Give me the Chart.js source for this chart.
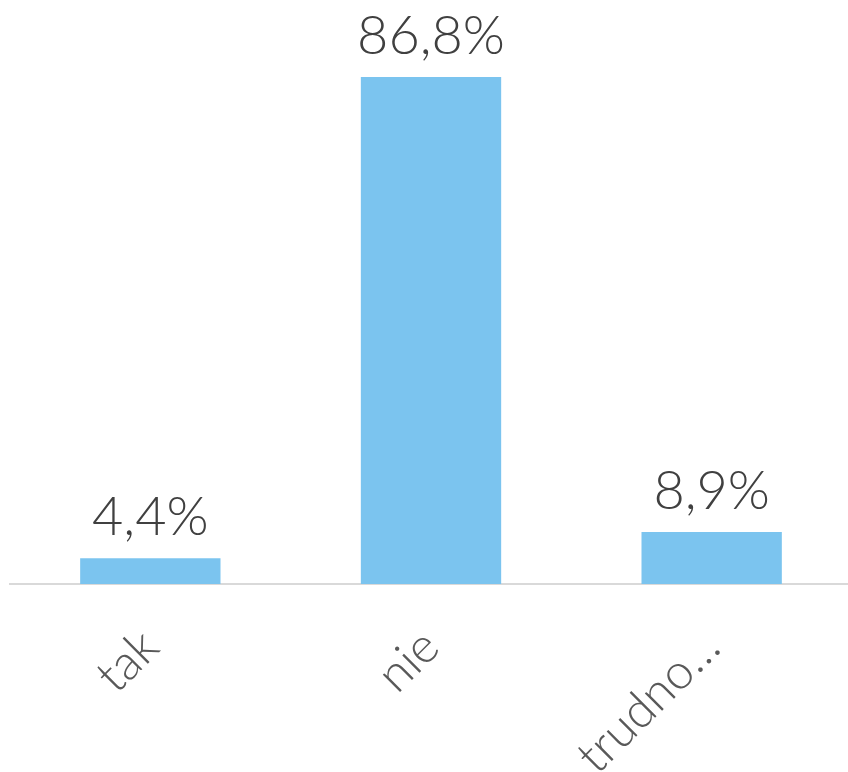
<!DOCTYPE html>
<html>
<head>
<meta charset="utf-8">
<script src="https://cdn.jsdelivr.net/npm/chart.js@4/dist/chart.umd.min.js"></script>
<style>
  html, body { margin: 0; padding: 0; background: #ffffff; overflow: hidden; }
  #wrap { width: 852px; height: 772px; }
</style>
</head>
<body>
<div id="wrap"><canvas id="c" width="852" height="772"></canvas></div>
<script>
const categories = ["tak", "nie", "trudno…"];
const values = [4.4, 86.8, 8.9];
const valueLabels = ["4,4%", "86,8%", "8,9%"];

const FONT = "Lato, 'Open Sans', sans-serif";

const valueLabelPlugin = {
  id: "valueLabels",
  afterDatasetsDraw(chart) {
    const ctx = chart.ctx;
    const meta = chart.getDatasetMeta(0);
    ctx.save();
    ctx.fillStyle = "#404040";
    ctx.font = "300 54px " + FONT;
    ctx.textAlign = "center";
    ctx.textBaseline = "alphabetic";
    meta.data.forEach((bar, i) => {
      ctx.fillText(valueLabels[i], bar.x, bar.y - 23);
    });
    ctx.restore();
  }
};

new Chart(document.getElementById("c"), {
  type: "bar",
  data: {
    labels: categories,
    datasets: [{
      data: values,
      backgroundColor: "#7BC4EF",
      borderWidth: 0,
      barPercentage: 0.5,
      categoryPercentage: 1.0
    }]
  },
  options: {
    responsive: false,
    animation: false,
    layout: { padding: { left: 10, right: 0, top: 0, bottom: 0 } },
    plugins: { legend: { display: false }, tooltip: { enabled: false } },
    scales: {
      y: { display: false, min: 0, max: 100 },
      x: {
        grid: { display: false, drawTicks: false },
        border: { display: true, color: "#D9D9D9", width: 2 },
        ticks: {
          color: "#595959",
          font: { family: FONT, size: 49, weight: 300 },
          maxRotation: 45,
          minRotation: 45,
          autoSkip: false,
          padding: 34
        },
        afterFit(scale) { scale.height = 188; }
      }
    }
  },
  plugins: [valueLabelPlugin]
});
</script>
</body>
</html>
